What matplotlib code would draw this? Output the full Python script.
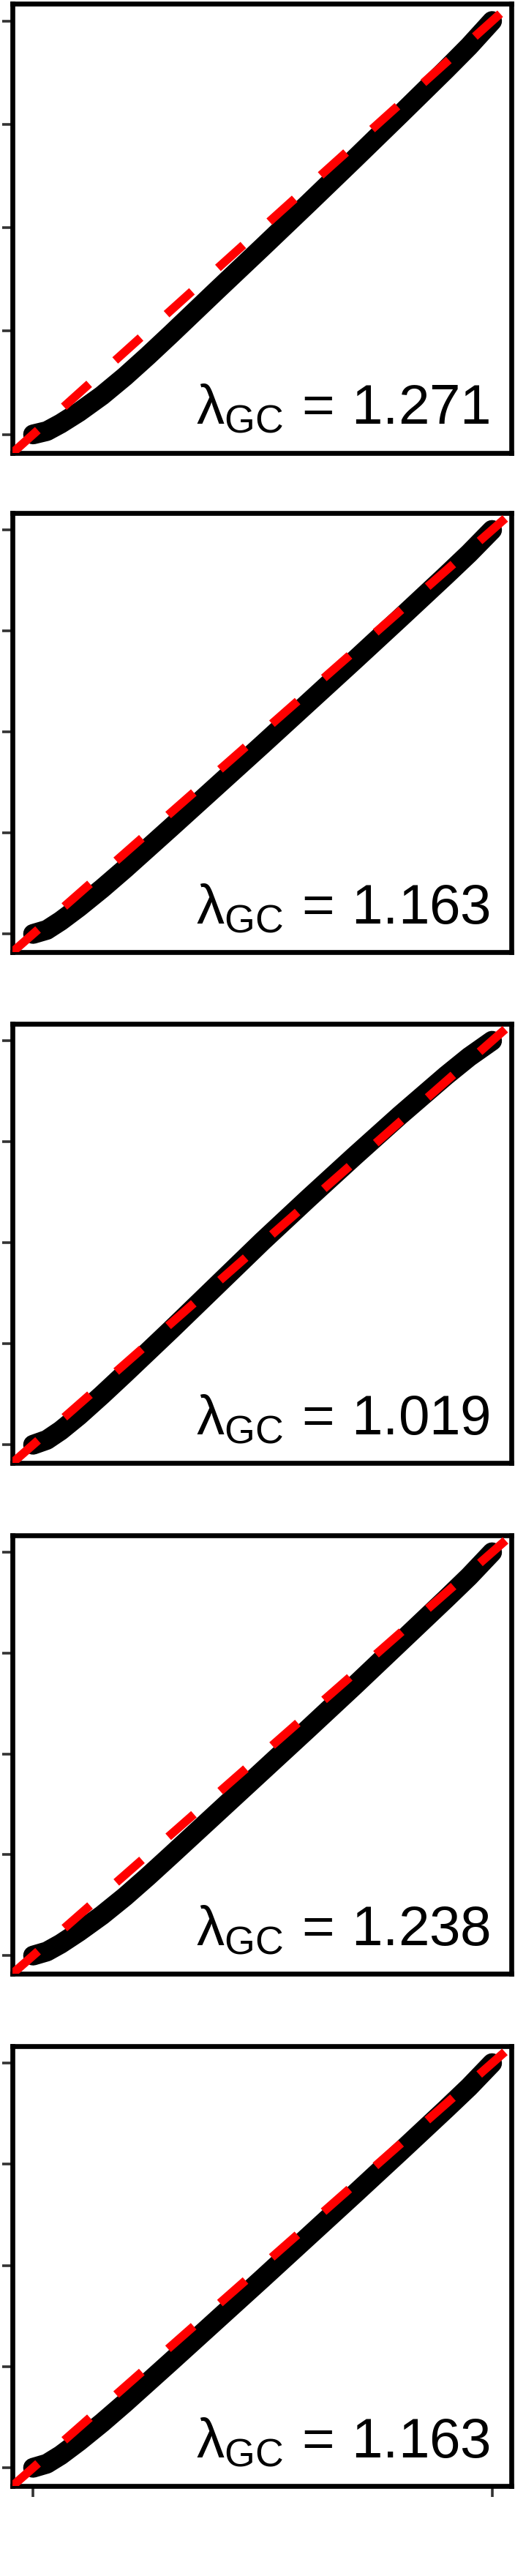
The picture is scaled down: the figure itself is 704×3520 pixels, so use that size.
import matplotlib
matplotlib.use("Agg")
import matplotlib.pyplot as plt

plt.rcParams["font.family"] = ["Liberation Sans", "DejaVu Sans"]
plt.rcParams["mathtext.fontset"] = "custom"
plt.rcParams["mathtext.rm"] = "Liberation Sans"
plt.rcParams["mathtext.it"] = "Liberation Sans:italic"

expected = [0, 0.03, 0.06, 0.10, 0.15, 0.20, 0.25, 0.30, 0.40, 0.50, 0.60, 0.70, 0.80, 0.90, 0.95, 1.0]

obs_1 = [0, 0.008, 0.026, 0.054, 0.094, 0.140, 0.190, 0.242, 0.348, 0.453, 0.559, 0.666, 0.774, 0.883, 0.939, 1.0]
obs_2 = [0, 0.010, 0.032, 0.066, 0.112, 0.161, 0.212, 0.263, 0.366, 0.469, 0.573, 0.677, 0.782, 0.888, 0.942, 1.0]
obs_3 = [0, 0.012, 0.035, 0.072, 0.123, 0.176, 0.230, 0.284, 0.394, 0.504, 0.610, 0.714, 0.816, 0.914, 0.960, 1.0]
obs_4 = [0, 0.010, 0.029, 0.059, 0.100, 0.146, 0.196, 0.248, 0.353, 0.458, 0.563, 0.669, 0.777, 0.885, 0.940, 1.0]
obs_5 = [0, 0.010, 0.031, 0.065, 0.111, 0.160, 0.211, 0.262, 0.365, 0.468, 0.572, 0.676, 0.781, 0.887, 0.941, 1.0]

lambda_gc = [1.271, 1.163, 1.019, 1.238, 1.163]
y_ticks = [0, 0.25, 0.5, 0.75, 1.0]
x_ticks = [0, 1.0]

observed = [obs_1, obs_2, obs_3, obs_4, obs_5]

W, H = 704, 3520
fig = plt.figure(figsize=(W / 100, H / 100), dpi=100)

# panel boxes in pixels: (top, bottom)
boxes = [(5, 619), (701, 1301), (1399, 1999), (2098, 2697), (2796, 3397)]
left_px, right_px = 17, 699
lim = (-0.045, 1.042)

for i, (obs, lam, (top, bot)) in enumerate(zip(observed, lambda_gc, boxes)):
    ax = fig.add_axes([left_px / W, 1 - bot / H, (right_px - left_px) / W, (bot - top) / H])
    ax.plot(expected, obs, color="black", lw=19.5, solid_capstyle="round",
            solid_joinstyle="round", zorder=2)
    ax.plot(lim, lim, color="#ff0000", lw=8.4, ls=(0, (4.0, 4.1)),
            dash_capstyle="butt", zorder=3)
    ax.set_xlim(*lim)
    ax.set_ylim(*lim)
    ax.set_yticks(y_ticks)
    ax.set_yticklabels([])
    if i == len(observed) - 1:
        ax.set_xticks(x_ticks)
        ax.set_xticklabels([])
        ax.tick_params(axis="x", length=11, width=2.6, color="#333333", direction="out")
    else:
        ax.set_xticks([])
    ax.tick_params(axis="y", length=10, width=2.6, color="#333333", direction="out")
    for sp in ax.spines.values():
        sp.set_linewidth(4.8)
        sp.set_color("black")
    ax.text(0.368, 0.064, r"$\mathrm{\lambda_{GC}}\,=\,\mathrm{%.3f}$" % lam,
            transform=ax.transAxes, ha="left", va="baseline", fontsize=55, zorder=4)

fig.savefig("out.png", dpi=100)
